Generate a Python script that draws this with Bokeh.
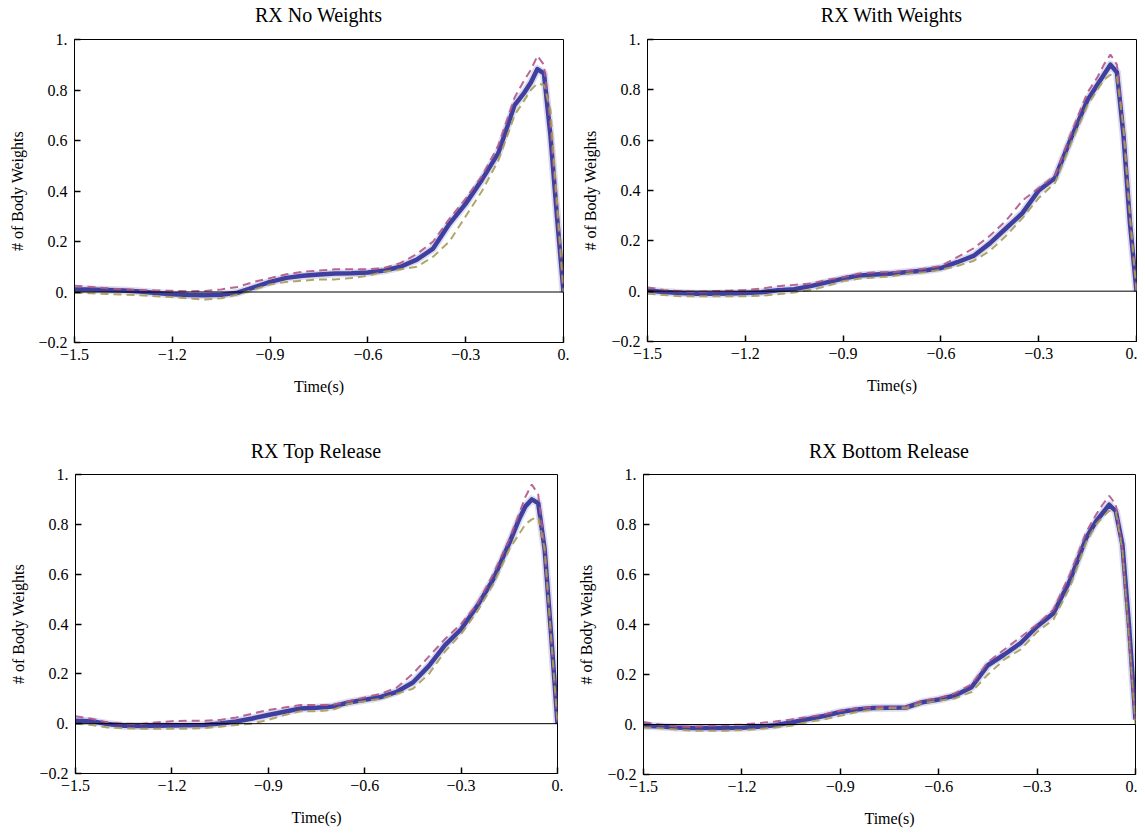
from bokeh.plotting import figure
from bokeh.layouts import column, row
from bokeh.models import Span, FixedTicker, Div, Spacer
from bokeh.embed import file_html
from bokeh.resources import INLINE

time = [-1.5, -1.45, -1.4, -1.35, -1.3, -1.25, -1.2, -1.15, -1.1, -1.05, -1.0,
        -0.95, -0.9, -0.85, -0.8, -0.75, -0.7, -0.65, -0.6, -0.55, -0.5, -0.45,
        -0.4, -0.35, -0.3, -0.25, -0.2, -0.15, -0.12, -0.1, -0.08, -0.06, -0.04,
        -0.02, 0.0]

titles = ["RX No Weights", "RX With Weights", "RX Top Release", "RX Bottom Release"]

no_w_mean = [0.01, 0.01, 0.008, 0.006, 0.002, -0.004, -0.009, -0.012, -0.013, -0.011, -0.003,
             0.018, 0.04, 0.056, 0.064, 0.069, 0.073, 0.074, 0.077, 0.085, 0.1, 0.128,
             0.172, 0.27, 0.35, 0.445, 0.55, 0.74, 0.79, 0.83, 0.883, 0.866, 0.62,
             0.3, 0.0]
no_w_upper = [0.025, 0.02, 0.015, 0.01, 0.008, 0.006, 0.005, 0.003, 0.004, 0.01, 0.02,
              0.04, 0.055, 0.07, 0.08, 0.085, 0.09, 0.09, 0.09, 0.095, 0.115, 0.15,
              0.2, 0.29, 0.37, 0.46, 0.58, 0.77, 0.84, 0.88, 0.935, 0.9, 0.66,
              0.32, 0.0]
no_w_lower = [-0.003, -0.005, -0.008, -0.01, -0.013, -0.017, -0.02, -0.025, -0.03, -0.025, -0.01,
              0.01, 0.03, 0.04, 0.045, 0.05, 0.05, 0.055, 0.065, 0.08, 0.09, 0.1,
              0.14, 0.2, 0.3, 0.4, 0.52, 0.7, 0.76, 0.8, 0.826, 0.82, 0.72,
              0.36, 0.0]

with_w_mean = [0.003, -0.003, -0.007, -0.01, -0.01, -0.009, -0.007, -0.004, 0.004, 0.008, 0.02,
               0.035, 0.05, 0.062, 0.066, 0.07, 0.076, 0.082, 0.092, 0.115, 0.14, 0.19,
               0.25, 0.31, 0.4, 0.45, 0.61, 0.76, 0.82, 0.86, 0.9, 0.87, 0.62,
               0.27, 0.0]
with_w_upper = [0.015, 0.005, 0.0, -0.003, 0.0, 0.002, 0.005, 0.01, 0.02, 0.025, 0.03,
                0.045, 0.055, 0.07, 0.075, 0.075, 0.08, 0.09, 0.1, 0.135, 0.17, 0.22,
                0.28, 0.36, 0.41, 0.46, 0.63, 0.79, 0.85, 0.9, 0.94, 0.9, 0.64,
                0.28, 0.0]
with_w_lower = [-0.01, -0.015, -0.02, -0.02, -0.02, -0.02, -0.02, -0.018, -0.012, -0.005, 0.005,
                0.02, 0.04, 0.05, 0.055, 0.06, 0.07, 0.075, 0.085, 0.1, 0.12, 0.16,
                0.22, 0.29, 0.37, 0.43, 0.59, 0.74, 0.8, 0.84, 0.86, 0.85, 0.65,
                0.3, 0.0]

top_mean = [0.012, 0.01, -0.001, -0.008, -0.009, -0.008, -0.007, -0.006, -0.005, 0.001, 0.009,
            0.021, 0.035, 0.048, 0.061, 0.064, 0.069, 0.085, 0.096, 0.107, 0.128, 0.165,
            0.232, 0.315, 0.379, 0.472, 0.579, 0.725, 0.819, 0.872, 0.9, 0.885, 0.7,
            0.36, 0.0]
top_upper = [0.03, 0.02, 0.005, 0.0, -0.002, 0.005, 0.01, 0.012, 0.012, 0.015, 0.025,
             0.04, 0.055, 0.065, 0.075, 0.075, 0.075, 0.09, 0.105, 0.12, 0.145, 0.2,
             0.27, 0.34, 0.4, 0.48, 0.6, 0.74, 0.84, 0.91, 0.96, 0.92, 0.7,
             0.35, 0.0]
top_lower = [0.0, -0.005, -0.015, -0.018, -0.02, -0.02, -0.02, -0.02, -0.018, -0.012, -0.005,
             0.0, 0.015, 0.035, 0.05, 0.05, 0.055, 0.08, 0.09, 0.1, 0.12, 0.14,
             0.2, 0.29, 0.36, 0.45, 0.56, 0.7, 0.76, 0.8, 0.82, 0.83, 0.7,
             0.35, 0.0]

bottom_mean = [-0.005, -0.008, -0.012, -0.014, -0.014, -0.014, -0.013, -0.009, -0.003, 0.008, 0.021,
               0.034, 0.05, 0.06, 0.066, 0.067, 0.068, 0.089, 0.1, 0.116, 0.149, 0.237,
               0.28, 0.326, 0.392, 0.445, 0.576, 0.747, 0.813, 0.846, 0.879, 0.853, 0.72,
               0.4, 0.02]
bottom_upper = [0.01, 0.0, -0.008, -0.01, -0.005, -0.002, 0.0, 0.005, 0.012, 0.02, 0.03,
                0.04, 0.055, 0.065, 0.07, 0.07, 0.07, 0.095, 0.105, 0.125, 0.16, 0.25,
                0.3, 0.35, 0.4, 0.46, 0.6, 0.77, 0.84, 0.88, 0.915, 0.88, 0.7,
                0.37, 0.0]
bottom_lower = [-0.012, -0.015, -0.02, -0.025, -0.025, -0.025, -0.022, -0.018, -0.012, -0.005, 0.01,
                0.02, 0.035, 0.05, 0.06, 0.065, 0.065, 0.085, 0.095, 0.105, 0.13, 0.2,
                0.26, 0.3, 0.37, 0.42, 0.55, 0.73, 0.8, 0.83, 0.855, 0.85, 0.7,
                0.35, 0.0]

x_ticks = [-1.5, -1.2, -0.9, -0.6, -0.3, 0.0]
x_tick_labels = ["\u22121.5", "\u22121.2", "\u22120.9", "\u22120.6", "\u22120.3", "0."]
y_ticks = [-0.2, 0.0, 0.2, 0.4, 0.6, 0.8, 1.0]
y_tick_labels = ["\u22120.2", "0.", "0.2", "0.4", "0.6", "0.8", "1."]

BLUE = "#3f3f9f"
MAGENTA = "#b3578a"
OLIVE = "#a89d58"
FONT = "Liberation Serif"


def make_title(text, width):
    return Div(text=text, width=width, height=30, margin=(0, 0, 0, 0),
               styles={"font-family": FONT, "font-size": "20px", "line-height": "30px",
                       "text-align": "center", "color": "black", "white-space": "nowrap"})


def make_panel(mean, upper, lower, fw, fh, bl, br, bt, bb):
    p = figure(frame_width=fw, frame_height=fh, x_range=(-1.5, 0.0), y_range=(-0.2, 1.0),
               output_backend="svg", toolbar_location=None,
               min_border_left=bl, min_border_right=br, min_border_top=bt, min_border_bottom=bb)
    p.grid.visible = False
    p.outline_line_color = "black"
    p.outline_line_width = 1
    p.background_fill_color = "white"
    p.border_fill_color = "white"

    p.xaxis.ticker = FixedTicker(ticks=x_ticks, minor_ticks=[])
    p.yaxis.ticker = FixedTicker(ticks=y_ticks, minor_ticks=[])
    p.xaxis.major_label_overrides = dict(zip(x_ticks, x_tick_labels))
    p.yaxis.major_label_overrides = dict(zip(y_ticks, y_tick_labels))
    for ax in (p.xaxis[0], p.yaxis[0]):
        ax.major_tick_in = 6
        ax.major_tick_out = 0
        ax.minor_tick_in = 0
        ax.minor_tick_out = 0
        ax.major_tick_line_width = 1.5
        ax.axis_line_color = "black"
        ax.axis_line_width = 1
        ax.major_label_text_font = FONT
        ax.major_label_text_font_size = "16px"
        ax.major_label_text_color = "black"
        ax.axis_label_text_font = FONT
        ax.axis_label_text_font_size = "16px"
        ax.axis_label_text_font_style = "normal"
        ax.axis_label_text_color = "black"
    p.xaxis.axis_label = "Time(s)"
    p.yaxis.axis_label = "# of Body Weights"
    p.xaxis.major_label_standoff = 6
    p.yaxis.major_label_standoff = 7
    p.xaxis.axis_label_standoff = 15
    p.yaxis.axis_label_standoff = 9

    p.add_layout(Span(location=0, dimension="width", line_color="black", line_width=1))

    p.line(time, mean, line_color=BLUE, line_width=8, line_alpha=0.18, line_join="round")
    p.line(time, mean, line_color=BLUE, line_width=4.5, line_join="round")
    p.line(time, upper, line_color=MAGENTA, line_width=2, line_dash="8 5", line_alpha=0.9)
    p.line(time, lower, line_color=OLIVE, line_width=2, line_dash="8 5", line_alpha=0.9)
    return p


p1 = make_panel(no_w_mean, no_w_upper, no_w_lower, 489, 303, 74, 11, 7, 96)
p2 = make_panel(with_w_mean, with_w_upper, with_w_lower, 489, 302, 73, 1, 9, 95)
p3 = make_panel(top_mean, top_upper, top_lower, 482, 299, 75, 17, 7, 54)
p4 = make_panel(bottom_mean, bottom_upper, bottom_lower, 492, 300, 69, 2, 8, 52)

title_row1 = row(Spacer(width=74, height=30, margin=(0, 0, 0, 0)), make_title(titles[0], 489),
                 Spacer(width=84, height=30, margin=(0, 0, 0, 0)), make_title(titles[1], 489))
title_row2 = row(Spacer(width=75, height=30, margin=(0, 0, 0, 0)), make_title(titles[2], 482),
                 Spacer(width=86, height=30, margin=(0, 0, 0, 0)), make_title(titles[3], 492))

layout = column(title_row1, row(p1, p2), title_row2, row(p3, p4))

with open("out.html", "w") as f:
    f.write(file_html(layout, INLINE))
